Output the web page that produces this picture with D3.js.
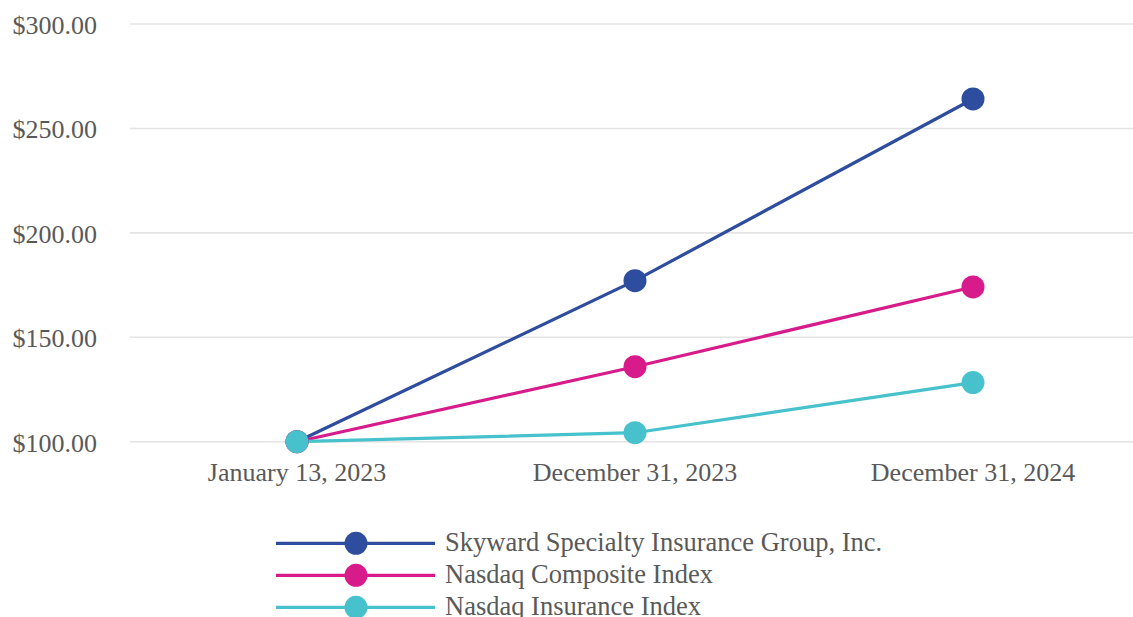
<!DOCTYPE html>
<html><head><meta charset="utf-8">
<script src="https://cdn.jsdelivr.net/npm/d3@7"></script>
<style>body{margin:0;background:#fff;}svg{display:block;}</style>
</head><body>
<svg id="c" width="1133" height="617"></svg>
<script>
const categories = ["January 13, 2023", "December 31, 2023", "December 31, 2024"];
const seriesNames = ["Skyward Specialty Insurance Group, Inc.", "Nasdaq Composite Index", "Nasdaq Insurance Index"];
const skyward = [100, 177.1, 264.1];
const composite = [100, 135.9, 174.1];
const insurance = [100, 104.3, 128.3];
const yTicks = [100, 150, 200, 250, 300];
const colors = ["#2e4d9f", "#d81b8b", "#47c2cc"];

const series = [skyward, composite, insurance];
const svg = d3.select("#c");
const font = "'Liberation Serif','Times New Roman',serif";

const x = d3.scaleBand().domain(categories).range([128, 1142]);
const y = d3.scaleLinear().domain([100, 300]).range([441.7, 24]);
const cx = d => x(d) + x.bandwidth() / 2;

// gridlines
svg.append("g").selectAll("line").data(yTicks).join("line")
  .attr("x1", 130).attr("x2", 1133)
  .attr("y1", d => y(d)).attr("y2", d => y(d))
  .attr("stroke", "#e4e4e4").attr("stroke-width", 1.6);

// y labels
const fmt = d3.format("$,.2f");
svg.append("g").selectAll("text").data(yTicks).join("text")
  .attr("x", 97).attr("y", d => y(d) + 10)
  .attr("text-anchor", "end")
  .attr("font-family", font).attr("font-size", 26).attr("fill", "#595959")
  .text(d => fmt(d));

// x labels
svg.append("g").selectAll("text").data(categories).join("text")
  .attr("x", d => cx(d)).attr("y", 481)
  .attr("text-anchor", "middle")
  .attr("font-family", font).attr("font-size", 26).attr("fill", "#595959")
  .text(d => d);

const line = d3.line().x((d, i) => cx(categories[i])).y(d => y(d));

// lines
series.forEach((s, k) => {
  svg.append("path").datum(s).attr("d", line)
    .attr("fill", "none").attr("stroke", colors[k]).attr("stroke-width", 3.2);
});
// markers
series.forEach((s, k) => {
  svg.append("g").selectAll("circle").data(s).join("circle")
    .attr("cx", (d, i) => cx(categories[i])).attr("cy", d => y(d))
    .attr("r", 11.5).attr("fill", colors[k]);
});

// legend
const lg = svg.append("g");
seriesNames.forEach((n, k) => {
  const ly = 543.3 + k * 32;
  lg.append("line").attr("x1", 276).attr("x2", 435).attr("y1", ly).attr("y2", ly)
    .attr("stroke", colors[k]).attr("stroke-width", 3.2);
  lg.append("circle").attr("cx", 356).attr("cy", ly).attr("r", 11.5).attr("fill", colors[k]);
  lg.append("text").attr("x", 445).attr("y", ly + 8)
    .attr("font-family", font).attr("font-size", 26.5).attr("fill", "#595959")
    .text(n);
});
</script>
</body></html>
